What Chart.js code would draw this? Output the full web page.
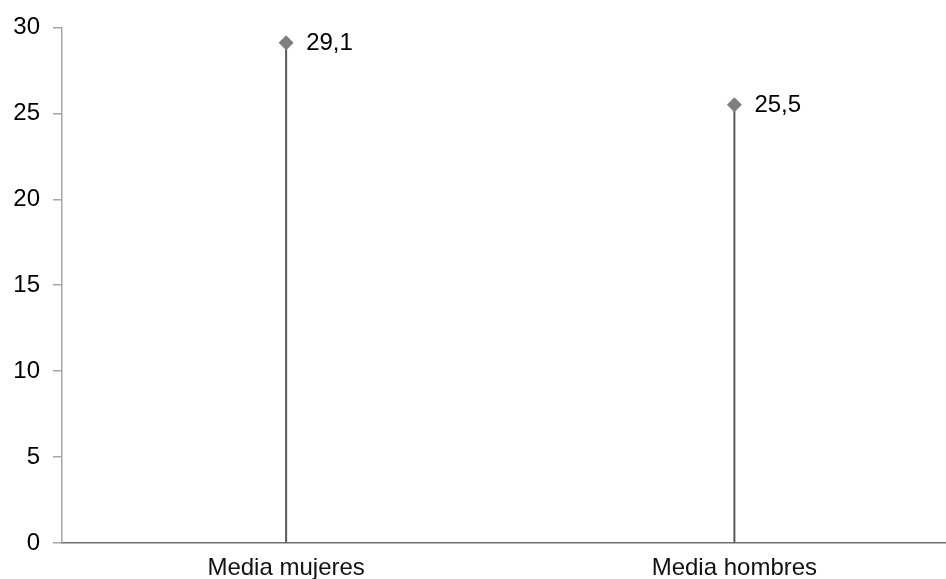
<!DOCTYPE html>
<html>
<head>
<meta charset="utf-8">
<script src="https://cdn.jsdelivr.net/npm/chart.js@4"></script>
<style>
html,body{margin:0;padding:0;background:#fff;overflow:hidden;}
#wrap{width:946px;height:579px;position:relative;overflow:hidden;}
</style>
</head>
<body>
<div id="wrap"><canvas id="c" width="954" height="579"></canvas></div>
<script>
const categories = ["Media mujeres", "Media hombres"];
const values = [29.1, 25.5];
const yTicks = [0, 5, 10, 15, 20, 25, 30];

const FONT = "'Liberation Sans', Arial, sans-serif";

const stemSets = values.map((v, i) => ({
  type: 'line',
  data: [{x: i, y: 0}, {x: i, y: v}],
  borderColor: '#5a5a5a',
  borderWidth: 2,
  pointRadius: 0,
  pointHoverRadius: 0,
  fill: false,
  order: 2
}));

const markerSet = {
  type: 'line',
  data: values.map((v, i) => ({x: i, y: v})),
  showLine: false,
  pointStyle: 'rectRot',
  pointRadius: 7.5,
  pointBackgroundColor: '#7f7f7f',
  pointBorderWidth: 0,
  order: 1
};

const labelPlugin = {
  id: 'valueLabels',
  afterDatasetsDraw(chart) {
    const ctx = chart.ctx;
    const xs = chart.scales.x, ys = chart.scales.y;
    ctx.save();
    ctx.font = "24px " + FONT;
    ctx.fillStyle = '#000';
    ctx.textAlign = 'left';
    ctx.textBaseline = 'middle';
    values.forEach((v, i) => {
      const px = xs.getPixelForValue(i);
      const py = ys.getPixelForValue(v);
      ctx.fillText(v.toFixed(1).replace('.', ','), px + 20, py + 1);
    });
    ctx.restore();
  }
};

new Chart(document.getElementById('c'), {
  type: 'line',
  data: { datasets: [...stemSets, markerSet] },
  plugins: [labelPlugin],
  options: {
    responsive: false,
    animation: false,
    events: [],
    layout: { padding: { top: 25, right: 0, left: 0, bottom: 0 } },
    plugins: { legend: { display: false }, tooltip: { enabled: false } },
    scales: {
      x: {
        type: 'linear',
        min: -0.5,
        max: -0.5 + 884 / 448,
        afterBuildTicks(scale) { scale.ticks = categories.map((c, i) => ({ value: i })); },
        afterFit(scale) { scale.height = 36; },
        grid: { display: false, drawTicks: false },
        border: { display: true, color: '#6e6e6e', width: 1.5 },
        ticks: {
          callback: (val) => categories[val] ?? '',
          font: { family: FONT, size: 24 },
          color: '#111',
          padding: 11,
          maxRotation: 0,
          autoSkip: false
        }
      },
      y: {
        min: 0,
        max: 30,
        afterBuildTicks(scale) { scale.ticks = yTicks.map(v => ({ value: v })); },
        afterFit(scale) { scale.width = 62; },
        grid: { display: true, drawOnChartArea: false, drawTicks: true, tickLength: 9, color: '#a6a6a6', lineWidth: 1.5 },
        border: { display: true, color: '#a6a6a6', width: 1.5 },
        ticks: {
          font: { family: FONT, size: 24 },
          color: '#000',
          padding: 13
        }
      }
    }
  }
});
</script>
</body>
</html>
